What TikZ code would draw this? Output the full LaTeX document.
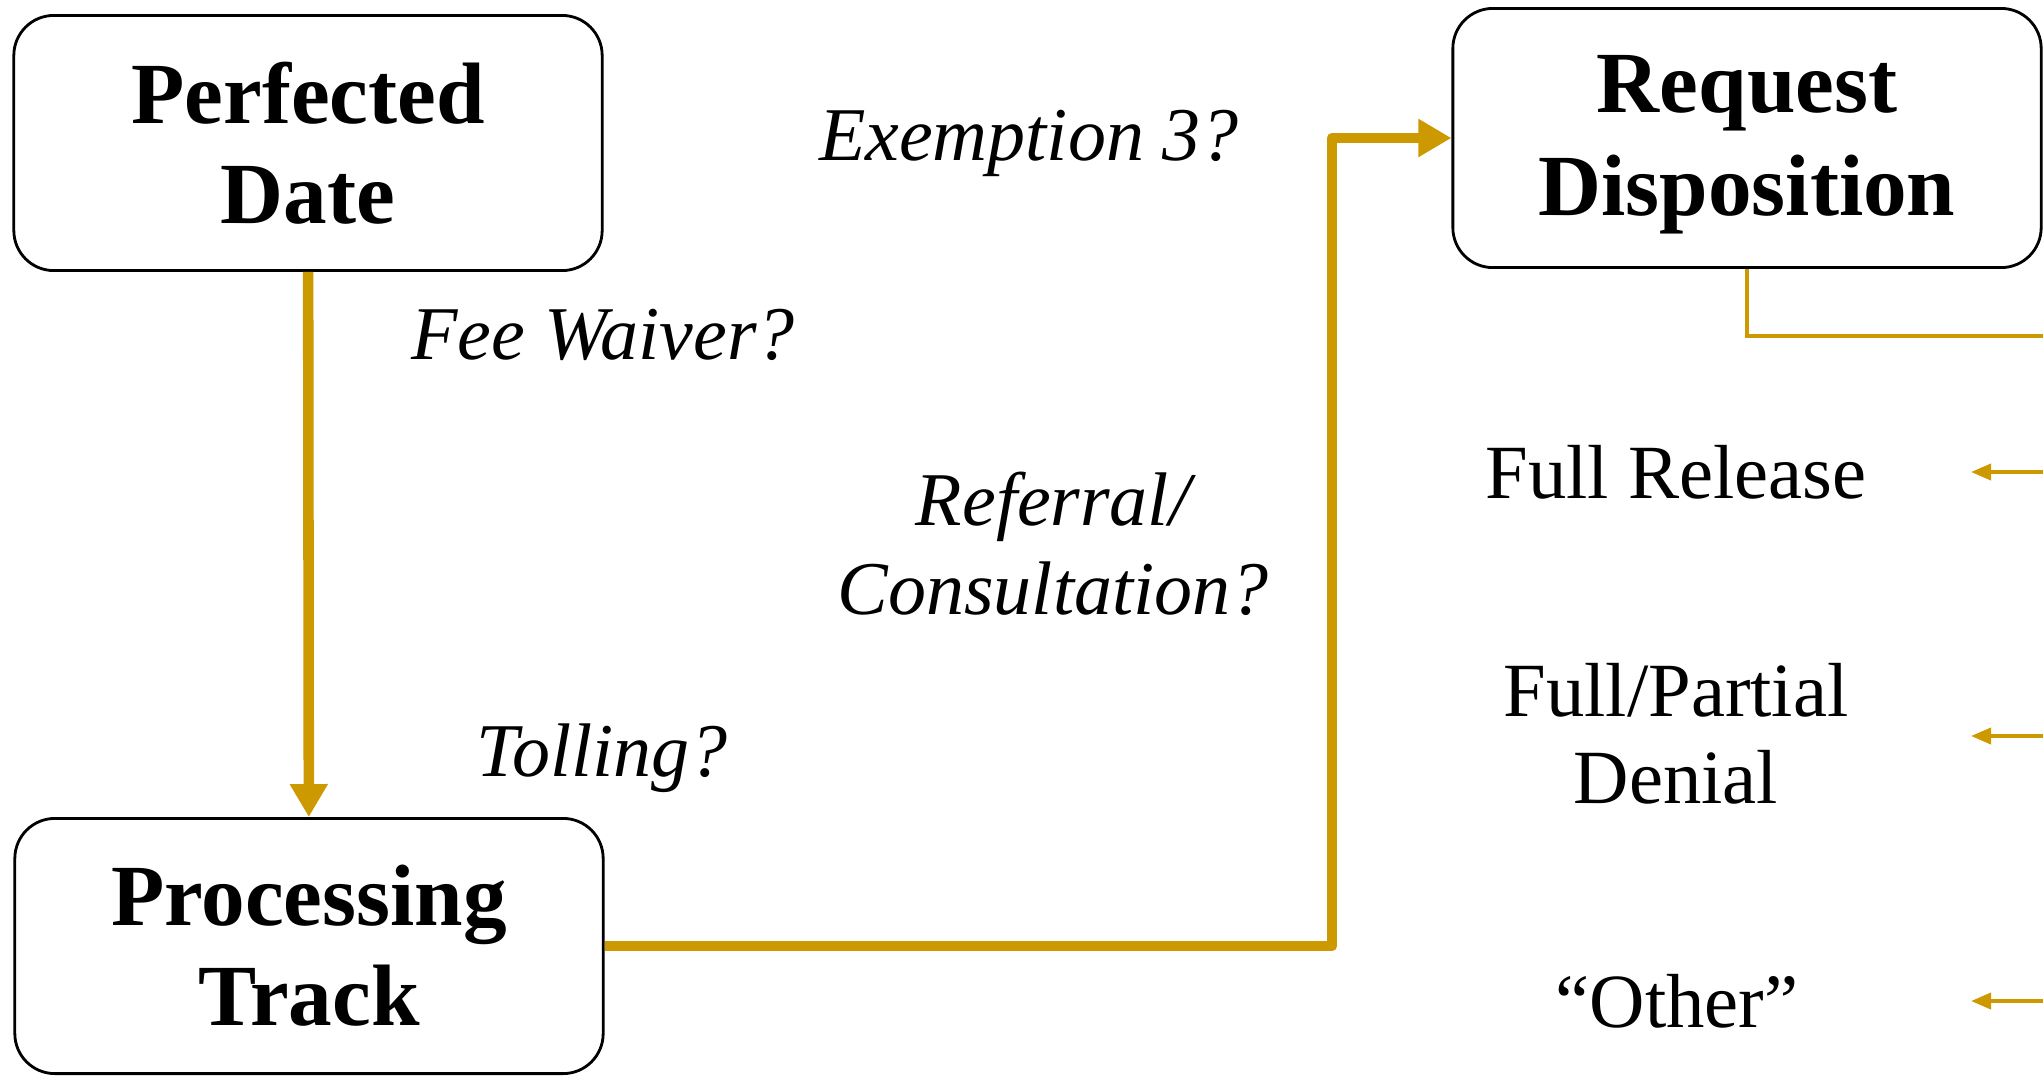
\documentclass[tikz,border=0pt]{standalone}
\usepackage{fontspec}
\setmainfont{Liberation Serif}
\usetikzlibrary{arrows.meta, positioning}

\definecolor{gold}{RGB}{204,153,0}

\begin{document}
\begin{tikzpicture}[x=0.01cm, y=-0.01cm,
        stage/.style={draw, line width=0.8pt, rounded corners=0.4cm, minimum width=5.88cm, minimum height=2.55cm, align=center, font=\fontsize{24.8}{28.5}\selectfont\bfseries},
        question/.style={align=center, font=\fontsize{21.6}{25.3}\selectfont\itshape},
        outcome/.style={align=center, font=\fontsize{21.8}{24.8}\selectfont},
        flow/.style={gold, line width=3pt, line join=round, -{Triangle[length=0.33cm, width=0.36cm]}},
        branch/.style={gold, line width=1.1pt, -{Triangle[length=0.2cm, width=0.16cm]}}]
        \useasboundingbox (0,0) rectangle (2043,1078);

        \node[stage] (perfected) at (308,143) {Perfected\\Date};
        \node[stage] (processing) at (309,946) {Processing\\Track};
        \node[stage, minimum height=2.59cm] (disposition) at (1747,138) {\raisebox{-0.07cm}[\height][\depth]{\shortstack{Request\\[0.13cm]Disposition}}};

        \node[question] (exemption) at (1029,143) {Exemption 3?};
        \node[question] (feewaiver) at (603,335) {Fee Waiver?};
        \node[question] (referral) at (1053,544) {Referral/\\Consultation?};
        \node[question] (tolling) at (602,758) {Tolling?};

        \node[outcome] (release) at (1676,472) {Full Release};
        \node[outcome] (denial) at (1676,734) {Full/Partial\\Denial};
        \node[outcome] (other) at (1677,1001) {“Other”};

        \coordinate (bend) at (1332,946);
        \coordinate (rail) at (2043,336);

        \draw[flow] (perfected) -- (processing);
        \draw[flow] (processing.east) -- (bend) |- (disposition.west);
        \draw[gold, line width=1.3pt] (disposition.south) |- (rail);

        \foreach \name/\y in {release/472, denial/736, other/1001} {
            \coordinate (\name-in) at (2043,\y);
            \coordinate (\name-tip) at (1971,\y);
            \draw[branch] (\name-in) -- (\name-tip);
        }
    \end{tikzpicture}
\end{document}
